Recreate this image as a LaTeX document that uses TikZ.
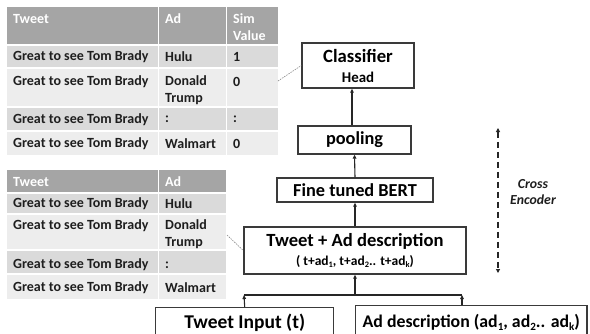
\documentclass[tikz,border=0pt]{standalone}
\usepackage{fontspec}
\setmainfont{Carlito}
\usetikzlibrary{arrows.meta}
\definecolor{hdrgray}{HTML}{A5A5A5}
\definecolor{bandA}{HTML}{DADADA}
\definecolor{bandB}{HTML}{EDEDED}
\definecolor{boxline}{HTML}{3A3A3A}
\definecolor{txt}{HTML}{1E1E1E}
\definecolor{dotgray}{HTML}{8A8A8A}
% small lowered index, kept in the running font
\newcommand\lowidx[1]{\raisebox{-0.28ex}{\scalebox{0.62}{#1}}}
\begin{document}
\begin{tikzpicture}[x=1pt,y=-1pt,
  cell/.style={anchor=west,inner sep=0pt,font=\fontsize{14}{17}\selectfont\bfseries,text=txt,align=left},
  hcell/.style={cell,text=white},
  block/.style={draw=boxline,line width=1.4pt,fill=white,inner sep=0pt,align=center,text=black},
  arr/.style={line width=1.1pt,draw=black!85,-{Triangle[length=4pt,width=3.6pt]}},
  link/.style={line width=1.1pt,draw=black!85},
  dotlink/.style={draw=dotgray,line width=0.6pt,dash pattern=on 1.5pt off 1pt},
  grid/.style={draw=white,line width=1.2pt}
]
\useasboundingbox (0,0) rectangle (590,333);
\clip (0,0) rectangle (590,333);
\fill[white] (0,0) rectangle (590,333);

% ---- upper table: tweet / ad / similarity ----
\fill[hdrgray] (7,7) rectangle (278,45);
\fill[bandA] (7,45) rectangle (278,68);
\fill[bandB] (7,68) rectangle (278,107);
\fill[bandA] (7,107) rectangle (278,131);
\fill[bandB] (7,131) rectangle (278,155);
\foreach \yy in {45,68,107,131} \draw[grid] (7,\yy) -- (278,\yy);
\foreach \xx in {158.5,226.5} \draw[grid] (\xx,7) -- (\xx,155);
\node[hcell] (h1a) at (13,19) {Tweet};
\node[hcell] (h1b) at (165,19) {Ad};
\node[hcell] (h1c) at (233,27.5) {Sim\\Value};
\node[cell] (t1r1a) at (13,57) {Great to see Tom Brady};
\node[cell] (t1r1b) at (165,57) {Hulu};
\node[cell] (t1r1c) at (233,57) {1};
\node[cell] (t1r2a) at (13,82) {Great to see Tom Brady};
\node[cell] (t1r2b) at (165,90.5) {Donald\\Trump};
\node[cell] (t1r2c) at (233,82) {0};
\node[cell] (t1r3a) at (13,119.5) {Great to see Tom Brady};
\node[cell] (t1r3b) at (165,119.5) {:};
\node[cell] (t1r3c) at (233,119.5) {:};
\node[cell] (t1r4a) at (13,143.5) {Great to see Tom Brady};
\node[cell] (t1r4b) at (165,143.5) {Walmart};
\node[cell] (t1r4c) at (233,143.5) {0};
\coordinate (tab1out) at (278,81);

% ---- lower table: tweet / ad pairs ----
\fill[hdrgray] (7,170) rectangle (226,193);
\fill[bandA] (7,193) rectangle (226,214);
\fill[bandB] (7,214) rectangle (226,250);
\fill[bandA] (7,250) rectangle (226,274);
\fill[bandB] (7,274) rectangle (226,299);
\foreach \yy in {193,214,250,274} \draw[grid] (7,\yy) -- (226,\yy);
\draw[grid] (158.5,170) -- (158.5,299);
\node[hcell] (h2a) at (13,182) {Tweet};
\node[hcell] (h2b) at (165,182) {Ad};
\node[cell] (t2r1a) at (13,204) {Great to see Tom Brady};
\node[cell] (t2r1b) at (165,204) {Hulu};
\node[cell] (t2r2a) at (13,226) {Great to see Tom Brady};
\node[cell] (t2r2b) at (165,234.5) {Donald\\Trump};
\node[cell] (t2r3a) at (13,265) {Great to see Tom Brady};
\node[cell] (t2r3b) at (165,265) {:};
\node[cell] (t2r4a) at (13,288) {Great to see Tom Brady};
\node[cell] (t2r4b) at (165,288) {Walmart};
\coordinate (tab2out) at (227,235);

% ---- model blocks ----
\node[block,minimum width=112pt,minimum height=45pt,font=\fontsize{18.7}{20}\selectfont\bfseries]
  (cls) at (358,65.5) {Classifier\\{\fontsize{14.9}{17}\selectfont Head}};
\node[block,minimum width=113pt,minimum height=28pt,font=\fontsize{18.3}{20}\selectfont\bfseries]
  (pool) at (354.5,140) {pooling};
\node[block,minimum width=156pt,minimum height=24pt,font=\fontsize{18.3}{20}\selectfont\bfseries]
  (bert) at (355,190) {Fine tuned BERT};
\node[block,minimum width=222pt,minimum height=47pt,font=\fontsize{18.6}{19}\selectfont\bfseries]
  (tad) at (355,250.5) {Tweet + Ad description\\{\fontsize{13.5}{15}\selectfont ( t+ad\lowidx{1}, t+ad\lowidx{2}.. t+ad\lowidx{k})}};
\node[block,anchor=north west,inner xsep=0pt,minimum height=31pt,minimum width=178pt,font=\fontsize{19.5}{21}\selectfont\bfseries]
  (tin) at (155,307) {Tweet Input (t)};
\node[block,anchor=north west,inner xsep=7pt,minimum height=34pt,font=\fontsize{17.8}{20}\selectfont\bfseries]
  (adb) at (355,305) {Ad description (ad\lowidx{1}, ad\lowidx{2}.. ad\lowidx{k})};

% ---- connectors ----
\coordinate (jl) at (244,295);
\coordinate (jr) at (462,295);
\coordinate (jm) at (355,295);
\draw[arr] (tin.north) -- (jl);
\draw[link] (jl) -- (jr);
\draw[arr] (jr |- adb.north) -- (jr);
\draw[arr] (jm) -- (tad.south);
\draw[arr] (tad.north) -- (bert.south);
\draw[arr] (bert.north) -- (pool.south);
\draw[arr] ([xshift=-2.5pt]pool.north) -- ([xshift=-2.5pt]pool.north |- cls.south);

% ---- links from tables to blocks ----
\draw[dotlink] (tab1out) -- (cls.west);
\draw[dotlink] (tab2out) -- (tad.west);

% ---- cross encoder span ----
\coordinate (ceTop) at (498,128);
\coordinate (ceBot) at (498,273);
\draw[line width=1.5pt,draw=black!85,dash pattern=on 6pt off 4pt,
  {Triangle[length=4pt,width=4pt]}-{Triangle[length=4pt,width=4pt]}] (ceTop) -- (ceBot);
\node[font=\fontsize{13.8}{16}\selectfont\bfseries\itshape,align=center,text=txt]
  (ce) at (533,192) {Cross\\Encoder};
\end{tikzpicture}
\end{document}
